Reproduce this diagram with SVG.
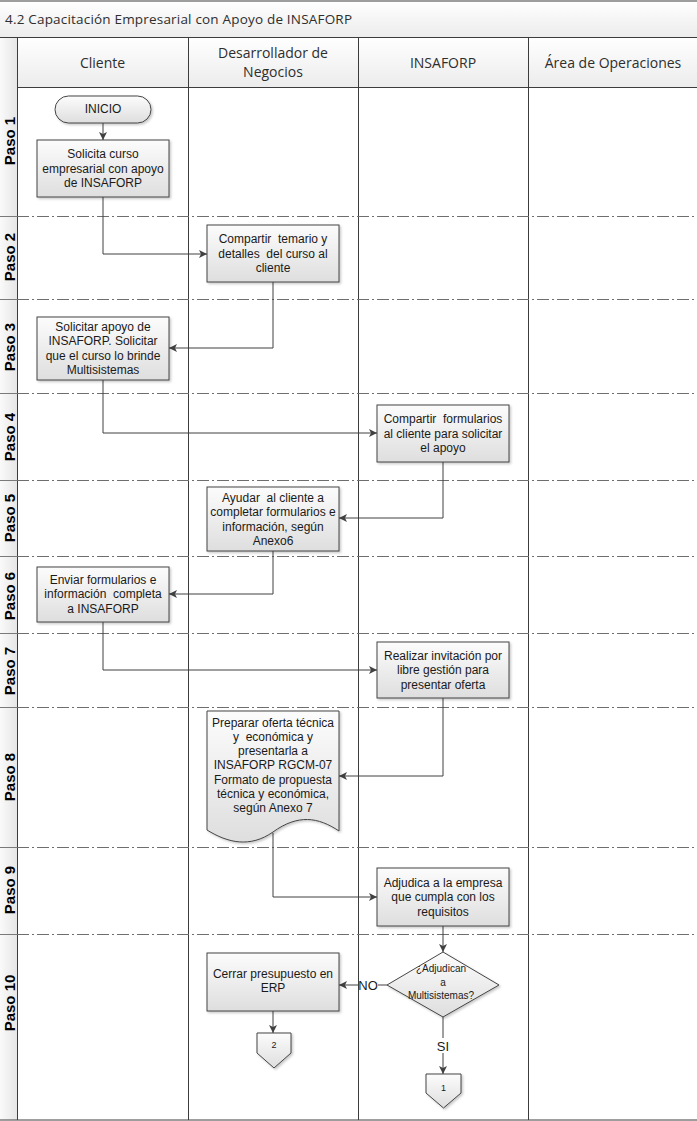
<svg xmlns="http://www.w3.org/2000/svg" width="697" height="1121" viewBox="0 0 697 1121">
<style>
.lane{stroke:#3c3c3c;stroke-width:1;fill:none}
.row{stroke:#6e6e6e;stroke-width:1;stroke-dasharray:12 3 2 3;fill:none}
.rowl{stroke:#7a7a7a;stroke-width:1;fill:none}
.hdr{font-family:"Open Sans","Liberation Sans",sans-serif;font-size:14px;fill:#2e2e2e;text-anchor:middle}
.paso{font-family:"Liberation Sans",Arial,sans-serif;font-size:15px;font-weight:bold;fill:#000;text-anchor:middle}
.box{fill:url(#gBox);stroke:#444;stroke-width:1;filter:url(#sh)}
.t{font-family:"Liberation Sans",Arial,sans-serif;font-size:12px;fill:#1a1a1a;text-anchor:middle;white-space:pre}
.ts{font-family:"Liberation Sans",Arial,sans-serif;font-size:10px;fill:#1a1a1a;text-anchor:middle}
.tn{font-family:"Liberation Sans",Arial,sans-serif;font-size:9px;fill:#1a1a1a;text-anchor:middle}
.lbl{font-family:"Liberation Sans",Arial,sans-serif;font-size:13px;fill:#1a1a1a;text-anchor:middle}
.c{stroke:#404040;stroke-width:1;fill:none}
.ca{stroke:#404040;stroke-width:1;fill:none;marker-end:url(#arr)}
</style>
<defs>
<linearGradient id="gBox" x1="0" y1="0" x2="0" y2="1">
<stop offset="0" stop-color="#fcfcfc"/>
<stop offset="1" stop-color="#dedede"/>
</linearGradient>
<linearGradient id="gHdr" x1="0" y1="0" x2="0" y2="1">
<stop offset="0" stop-color="#ffffff"/>
<stop offset="1" stop-color="#ececec"/>
</linearGradient>
<linearGradient id="gCol" x1="0" y1="0" x2="1" y2="0">
<stop offset="0" stop-color="#fafafa"/>
<stop offset="1" stop-color="#e6e6e6"/>
</linearGradient>
<filter id="sh" x="-10%" y="-10%" width="130%" height="130%">
<feDropShadow dx="1.5" dy="1.5" stdDeviation="1" flood-color="#000" flood-opacity="0.22"/>
</filter>
<marker id="arr" viewBox="0 0 10 10" refX="10" refY="5" markerUnits="userSpaceOnUse" markerWidth="9" markerHeight="8" orient="auto">
<path d="M0,0 L10,5 L0,10 L2.5,5 z" fill="#404040"/>
</marker>
</defs>

<g id="frame">
<rect x="0" y="0" width="697" height="1121" fill="#fff"/>
<rect x="0" y="1" width="697" height="36" fill="url(#gHdr)"/>
<rect x="0" y="37" width="17" height="1083" fill="url(#gCol)"/>
<rect x="17" y="37" width="680" height="50" fill="url(#gHdr)"/>
<line x1="0" y1="1" x2="697" y2="1" class="lane"/>
<line x1="0" y1="37.5" x2="697" y2="37.5" class="lane"/>
<line x1="17" y1="87.5" x2="697" y2="87.5" class="lane"/>
<line x1="0" y1="1120" x2="697" y2="1120" class="lane"/>
<line x1="17.5" y1="37" x2="17.5" y2="1120" class="lane"/>
<line x1="188.5" y1="37" x2="188.5" y2="1120" class="lane"/>
<line x1="358.5" y1="37" x2="358.5" y2="1120" class="lane"/>
<line x1="528.5" y1="37" x2="528.5" y2="1120" class="lane"/>
<text x="5" y="24" font-family="'Open Sans','Liberation Sans',sans-serif" font-size="13.5" fill="#2e2e2e" textLength="347" lengthAdjust="spacing">4.2 Capacitación Empresarial con Apoyo de INSAFORP</text>
<text class="hdr" x="102.5" y="68">Cliente</text>
<text class="hdr" x="273" y="58">Desarrollador de</text>
<text class="hdr" x="273" y="77">Negocios</text>
<text class="hdr" x="443" y="68">INSAFORP</text>
<text class="hdr" x="613" y="68">Área de Operaciones</text>
</g>

<g id="rows">
<path class="row" d="M17,216.5 H697 M17,299.5 H697 M17,393.5 H697 M17,480.5 H697 M17,556.5 H697 M17,633.5 H697 M17,707.5 H697 M17,847.5 H697 M17,934.5 H697"/>
<path class="rowl" d="M0,216.5 H17 M0,299.5 H17 M0,393.5 H17 M0,480.5 H17 M0,556.5 H17 M0,633.5 H17 M0,707.5 H17 M0,847.5 H17 M0,934.5 H17"/>
<text class="paso" transform="translate(14.5,141) rotate(-90)">Paso 1</text>
<text class="paso" transform="translate(14.5,257) rotate(-90)">Paso 2</text>
<text class="paso" transform="translate(14.5,347) rotate(-90)">Paso 3</text>
<text class="paso" transform="translate(14.5,437) rotate(-90)">Paso 4</text>
<text class="paso" transform="translate(14.5,518) rotate(-90)">Paso 5</text>
<text class="paso" transform="translate(14.5,596) rotate(-90)">Paso 6</text>
<text class="paso" transform="translate(14.5,671) rotate(-90)">Paso 7</text>
<text class="paso" transform="translate(14.5,777) rotate(-90)">Paso 8</text>
<text class="paso" transform="translate(14.5,890) rotate(-90)">Paso 9</text>
<text class="paso" transform="translate(14.5,1003) rotate(-90)">Paso 10</text>
</g>

<g id="connectors">
<path class="ca" d="M103,123 V140"/>
<path class="ca" d="M103,197 V254 H207"/>
<path class="ca" d="M273,282 V348 H169"/>
<path class="ca" d="M103,380 V433 H377"/>
<path class="ca" d="M443,462 V518 H339"/>
<path class="ca" d="M273,551 V594 H169"/>
<path class="ca" d="M103,622 V670 H377"/>
<path class="ca" d="M443,698 V776 H339"/>
<path class="ca" d="M273,833 V897 H377"/>
<path class="ca" d="M443,926 V952"/>
<path class="c" d="M387,985 H378"/>
<path class="ca" d="M358,985 H339"/>
<text class="lbl" x="368" y="989.5">NO</text>
<path class="ca" d="M273,1011 V1033"/>
<path class="c" d="M443,1017 V1038"/>
<path class="ca" d="M443,1053 V1074"/>
<text class="lbl" x="443" y="1050.5">SI</text>
</g>

<g id="inicio">
<rect x="55" y="96" width="96" height="27" rx="13.5" ry="13.5" class="box"/>
<text class="t" x="103" y="113" font-size="13">INICIO</text>
</g>

<g id="n1">
<rect x="37" y="140" width="132" height="57" class="box"/>
<text class="t" x="103" y="158.3">Solicita curso</text>
<text class="t" x="103" y="172.8">empresarial con apoyo</text>
<text class="t" x="103" y="187.3">de INSAFORP</text>
</g>

<g id="n2">
<rect x="207" y="225" width="132" height="57" class="box"/>
<text class="t" x="273" y="243.3">Compartir  temario y</text>
<text class="t" x="273" y="257.8">detalles  del curso al</text>
<text class="t" x="273" y="272.3">cliente</text>
</g>

<g id="n3">
<rect x="37" y="317" width="132" height="63" class="box"/>
<text class="t" x="103" y="330.5">Solicitar apoyo de</text>
<text class="t" x="103" y="345">INSAFORP. Solicitar</text>
<text class="t" x="103" y="359.5">que el curso lo brinde</text>
<text class="t" x="103" y="374">Multisistemas</text>
</g>

<g id="n4">
<rect x="377" y="405" width="132" height="57" class="box"/>
<text class="t" x="443" y="423.3">Compartir  formularios</text>
<text class="t" x="443" y="437.8">al cliente para solicitar</text>
<text class="t" x="443" y="452.3">el apoyo</text>
</g>

<g id="n5">
<rect x="207" y="487" width="132" height="64" class="box"/>
<text class="t" x="273" y="501.5">Ayudar  al cliente a</text>
<text class="t" x="273" y="516">completar formularios e</text>
<text class="t" x="273" y="530.5">información, según</text>
<text class="t" x="273" y="545">Anexo6</text>
</g>

<g id="n6">
<rect x="37" y="567" width="132" height="55" class="box"/>
<text class="t" x="103" y="583.5">Enviar formularios e</text>
<text class="t" x="103" y="598">información  completa</text>
<text class="t" x="103" y="612.5">a INSAFORP</text>
</g>

<g id="n7">
<rect x="377" y="642" width="132" height="56" class="box"/>
<text class="t" x="443" y="659.5">Realizar invitación por</text>
<text class="t" x="443" y="674">libre gestión para</text>
<text class="t" x="443" y="688.5">presentar oferta</text>
</g>

<g id="n8">
<path d="M207,711 H339 V831 C318,817 298,814 273,832 C250,848 228,843 207,830 Z" class="box"/>
<text class="t" x="273" y="726.5">Preparar oferta técnica</text>
<text class="t" x="273" y="740.8">y  económica y</text>
<text class="t" x="273" y="755.1">presentarla a</text>
<text class="t" x="273" y="769.4">INSAFORP RGCM-07</text>
<text class="t" x="273" y="783.7">Formato de propuesta</text>
<text class="t" x="273" y="798">técnica y económica,</text>
<text class="t" x="273" y="812.3">según Anexo 7</text>
</g>

<g id="n9">
<rect x="377" y="868" width="132" height="58" class="box"/>
<text class="t" x="443" y="886.5">Adjudica a la empresa</text>
<text class="t" x="443" y="901">que cumpla con los</text>
<text class="t" x="443" y="915.5">requisitos</text>
</g>

<g id="d1">
<path d="M443,952 L499,985 L443,1017 L387,985 Z" class="box"/>
<text class="ts" x="441" y="972">¿Adjudican</text>
<text class="ts" x="443" y="985.5">a</text>
<text class="ts" x="441" y="999">Multisistemas?</text>
</g>

<g id="n10">
<rect x="207" y="953" width="132" height="58" class="box"/>
<text class="t" x="273" y="977.5">Cerrar presupuesto en</text>
<text class="t" x="273" y="992">ERP</text>
</g>

<g id="off2">
<path d="M257,1033 H291 V1053 L274,1068 L257,1053 Z" class="box"/>
<text class="tn" x="274" y="1048">2</text>
</g>

<g id="off1">
<path d="M426,1074 H461 V1093 L443.5,1108 L426,1093 Z" class="box"/>
<text class="tn" x="443.5" y="1091">1</text>
</g>
</svg>
